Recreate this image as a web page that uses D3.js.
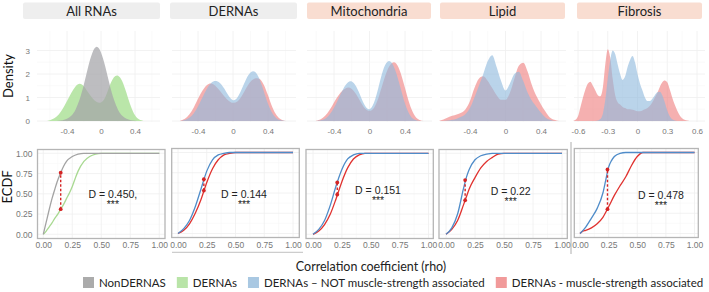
<!DOCTYPE html>
<meta charset="utf-8">
<style>
body { margin: 0; background: #fff; }
text { font-family: "Liberation Sans", Arial, sans-serif; }
.strip text { font-family: Lato, sans-serif; font-size: 13px; fill: #222; }
.grid line { stroke: #efefef; stroke-width: 0.8px; }
.grid line.minor { stroke: #f6f6f6; stroke-width: 0.6px; }
.dlab { font-size: 10.5px; fill: #222; }
</style>
<body>
<svg width="709" height="292"></svg>
<script src="https://d3js.org/d3.v7.min.js"></script>
<script>

var svg = d3.select("svg");

// ---- strip labels ----
var stripLabels = ["All RNAs", "DERNAs", "Mitochondria", "Lipid", "Fibrosis"];

// ---- density data (rho grid + density values) ----
var gridAll = [-0.65,-0.6,-0.55,-0.5,-0.45,-0.4,-0.35,-0.3,-0.25,-0.2,-0.15,-0.1,-0.05,0,0.05,0.1,0.15,0.2,0.25,0.3,0.35,0.4,0.45,0.5];
var densAllDE  = [0,0.03,0.1,0.25,0.5,0.85,1.2,1.5,1.63,1.5,1.2,0.95,0.78,0.75,0.95,1.5,1.9,1.98,1.75,1.2,0.6,0.2,0.04,0];
var densAllNon = [0,0,0,0.01,0.03,0.08,0.2,0.45,0.9,1.55,2.35,2.98,3.25,2.98,2.35,1.55,0.9,0.45,0.2,0.08,0.03,0.01,0,0];

var gridMid = [-0.6,-0.55,-0.5,-0.45,-0.4,-0.35,-0.3,-0.25,-0.2,-0.15,-0.1,-0.05,0,0.05,0.1,0.15,0.2,0.25,0.3,0.35,0.4,0.45,0.5,0.55,0.6];
var densDeNot  = [0,0.03,0.12,0.3,0.6,1.0,1.38,1.65,1.73,1.65,1.4,1.05,0.83,0.95,1.35,1.8,2.1,2.16,1.85,1.3,0.7,0.3,0.08,0.02,0];
var densDeMus  = [0.02,0.08,0.25,0.55,0.95,1.3,1.55,1.63,1.5,1.3,1.05,0.85,0.75,0.8,1.05,1.4,1.7,1.82,1.84,1.6,1.1,0.55,0.2,0.05,0];
var densMitNot = [0,0.02,0.08,0.25,0.55,0.95,1.35,1.65,1.73,1.5,1.05,0.6,0.43,0.7,1.4,2.2,2.58,2.55,2.1,1.4,0.7,0.25,0.05,0,0];
var densMitMus = [0.01,0.06,0.2,0.45,0.8,1.1,1.32,1.45,1.4,1.15,0.8,0.5,0.4,0.5,0.95,1.6,2.2,2.5,2.52,2.1,1.4,0.7,0.25,0.05,0];

var gridLip = [-0.75,-0.7,-0.65,-0.6,-0.55,-0.5,-0.45,-0.4,-0.35,-0.3,-0.25,-0.2,-0.15,-0.1,-0.05,0,0.05,0.1,0.15,0.2,0.25,0.3,0.35,0.4,0.45,0.5,0.55,0.6];
var densLipNot = [0,0,0.02,0.05,0.1,0.18,0.3,0.55,1.0,1.5,2.0,2.55,2.8,2.3,1.7,1.3,1.6,2.0,2.1,1.7,1.2,0.85,0.6,0.35,0.15,0.05,0,0];
var densLipMus = [0,0.06,0.15,0.22,0.28,0.35,0.5,0.85,1.4,1.8,1.9,1.7,1.4,1.1,0.9,0.9,1.2,1.8,2.35,2.48,2.1,1.5,1.05,0.7,0.4,0.15,0.05,0];

var gridFib = [-0.65,-0.625,-0.6,-0.575,-0.55,-0.525,-0.5,-0.475,-0.45,-0.425,-0.4,-0.375,-0.35,-0.325,-0.3,-0.275,-0.25,-0.225,-0.2,-0.175,-0.15,-0.125,-0.1,-0.075,-0.05,-0.025,0,0.025,0.05,0.075,0.1,0.125,0.15,0.175,0.2,0.225,0.25,0.275,0.3,0.325,0.35,0.375,0.4,0.425,0.45,0.475,0.5,0.525];
var densFibMus = [0,0.05,0.2,0.6,1.0,1.35,1.6,1.67,1.5,1.3,1.1,1.05,1.4,2.4,3.05,2.7,1.8,1.1,0.8,0.7,0.6,0.55,0.5,0.5,0.48,0.45,0.42,0.42,0.45,0.5,0.55,0.65,0.8,1.0,1.2,1.45,1.65,1.72,1.65,1.35,1.0,0.7,0.45,0.25,0.12,0.05,0.02,0];
var densFibNot = [0,0,0,0,0,0,0,0,0,0,0.02,0.08,0.3,0.9,1.8,2.6,3.0,2.85,2.4,2.0,1.75,1.9,2.3,2.6,2.77,2.5,2.0,1.6,1.3,1.0,0.85,0.85,0.95,1.1,1.22,1.25,1.1,0.8,0.45,0.2,0.07,0.02,0,0,0,0,0,0];

// ---- ECDF data ([|rho|, cumulative fraction]) ----
var ecdfAllNon = [[0,0],[0.025,0.15],[0.05,0.3],[0.075,0.44],[0.1,0.56],[0.125,0.67],[0.15,0.76],[0.175,0.84],[0.2,0.9],[0.25,0.96],[0.3,0.99],[0.35,1],[1,1]];
var ecdfAllDE  = [[0,0],[0.025,0.04],[0.05,0.09],[0.075,0.14],[0.1,0.2],[0.125,0.25],[0.15,0.31],[0.175,0.37],[0.2,0.44],[0.225,0.51],[0.25,0.59],[0.275,0.69],[0.3,0.78],[0.35,0.9],[0.4,0.96],[0.45,0.99],[0.5,1],[1,1]];
var ecdfDeNot  = [[0,0],[0.05,0.06],[0.1,0.16],[0.15,0.33],[0.2,0.55],[0.25,0.77],[0.3,0.91],[0.35,0.97],[0.4,0.99],[0.45,1],[1,1]];
var ecdfDeMus  = [[0,0],[0.05,0.04],[0.1,0.12],[0.15,0.25],[0.2,0.42],[0.25,0.63],[0.3,0.8],[0.35,0.91],[0.4,0.97],[0.45,0.99],[0.5,1],[1,1]];
var ecdfMitNot = [[0,0],[0.05,0.06],[0.1,0.17],[0.15,0.36],[0.2,0.6],[0.25,0.8],[0.3,0.93],[0.35,0.98],[0.4,1],[1,1]];
var ecdfMitMus = [[0,0],[0.05,0.04],[0.1,0.12],[0.15,0.25],[0.2,0.44],[0.25,0.65],[0.3,0.82],[0.35,0.93],[0.4,0.98],[0.45,1],[1,1]];
var ecdfLipNot = [[0,0],[0.05,0.08],[0.1,0.25],[0.15,0.56],[0.175,0.7],[0.2,0.8],[0.25,0.92],[0.3,0.97],[0.35,0.99],[0.4,1],[1,1]];
var ecdfLipMus = [[0,0],[0.05,0.06],[0.1,0.17],[0.15,0.36],[0.175,0.46],[0.2,0.56],[0.25,0.7],[0.3,0.82],[0.35,0.9],[0.4,0.95],[0.45,0.99],[0.5,1],[1,1]];
var ecdfFibNot = [[0,0],[0.05,0.08],[0.1,0.19],[0.15,0.31],[0.2,0.5],[0.225,0.66],[0.25,0.82],[0.275,0.9],[0.3,0.95],[0.35,0.99],[0.4,1],[1,1]];
var ecdfFibMus = [[0,0],[0.025,0.03],[0.05,0.04],[0.1,0.07],[0.15,0.12],[0.2,0.2],[0.25,0.33],[0.3,0.47],[0.35,0.59],[0.4,0.7],[0.45,0.84],[0.5,0.95],[0.55,1],[1,1]];

// KS statistic annotations
var ksLabels = ["D = 0.450,", "D = 0.144", "D = 0.151", "D = 0.22", "D = 0.478"];
var ksStars  = ["***", "***", "***", "***", "***"];
var ksAt     = [0.15, 0.225, 0.21, 0.165, 0.24];
var ksLow    = [0.31, 0.53, 0.49, 0.42, 0.30];
var ksHigh   = [0.76, 0.67, 0.64, 0.67, 0.79];

var legendLabels = ["NonDERNAS", "DERNAs", "DERNAs \u2013 NOT muscle-strength associated", "DERNAs - muscle-strength associated"];

// ---- colours ----
var col = {
  non:   {fill: "#a4a4a8", line: "#a3a3a3", key: "#ababab"},
  de:    {fill: "#b3e3a0", line: "#a8d991", key: "#b9e4a8"},
  notms: {fill: "#8fb9dd", line: "#4f8cc9", key: "#a9c8e2"},
  ms:    {fill: "#ef7f7f", line: "#e0322f", key: "#f19a9a"}
};

// ---- layout ----
var densY = d3.scaleLinear().domain([0, 3]).range([121, 50.5]);
var densTop = 31;

var densPanels = [
  {grid: gridAll, s: [[densAllDE, col.de, 0.9], [densAllNon, col.non, 0.72]], x: d3.scaleLinear().domain([-0.4, 0.4]).range([67, 135]), ticks: [-0.4, 0, 0.4], area: [37, 160]},
  {grid: gridMid, s: [[densDeMus, col.ms, 0.62], [densDeNot, col.notms, 0.62]], x: d3.scaleLinear().domain([-0.4, 0.4]).range([198, 268]), ticks: [-0.4, 0, 0.4], area: [172, 296]},
  {grid: gridMid, s: [[densMitMus, col.ms, 0.62], [densMitNot, col.notms, 0.62]], x: d3.scaleLinear().domain([-0.4, 0.4]).range([334, 405]), ticks: [-0.4, 0, 0.4], area: [307, 432]},
  {grid: gridLip, s: [[densLipMus, col.ms, 0.62], [densLipNot, col.notms, 0.62]], x: d3.scaleLinear().domain([-0.4, 0.4]).range([470, 541]), ticks: [-0.4, 0, 0.4], area: [440, 566]},
  {grid: gridFib, s: [[densFibMus, col.ms, 0.62], [densFibNot, col.notms, 0.62]], x: d3.scaleLinear().domain([-0.6, 0.6]).range([578, 697]), ticks: [-0.6, -0.3, 0, 0.3, 0.6], area: [574, 705]}
];

var stripBoxes = [[23, 160, "#eeeeee"], [170, 297, "#eeeeee"], [307, 431, "#f9ddd1"], [440, 565, "#f9ddd1"], [577, 702, "#f9ddd1"]];

var ecdfPanels = [
  {box: [37.5, 165, 149.5, 238.5], x: [43.3, 159.3], y: [234.3, 153.3], s: [[ecdfAllDE, col.de], [ecdfAllNon, col.non]], lab: [0.6, 0.45, 0.32]},
  {box: [171.7, 299.3, 148.5, 237.5], x: [178, 293], y: [233.5, 152.5], s: [[ecdfDeMus, col.ms], [ecdfDeNot, col.notms]], lab: [0.574, 0.44, 0.31]},
  {box: [306, 433.3, 149.5, 238.5], x: [313, 428.5], y: [234.3, 153.3], s: [[ecdfMitMus, col.ms], [ecdfMitNot, col.notms]], lab: [0.563, 0.5, 0.37]},
  {box: [439, 567.3, 149.5, 238.5], x: [446, 562], y: [234.3, 153.3], s: [[ecdfLipMus, col.ms], [ecdfLipNot, col.notms]], lab: [0.558, 0.49, 0.36]},
  {box: [574.3, 698.3, 148.5, 237.5], x: [580, 694.5], y: [233.5, 152.5], s: [[ecdfFibMus, col.ms], [ecdfFibNot, col.notms]], lab: [0.707, 0.43, 0.30]}
];

function styleAxis(g, size) {
  g.select(".domain").remove();
  g.selectAll(".tick line").remove();
  g.attr("font-family", "'Liberation Sans', Arial, sans-serif").attr("font-size", size);
  g.selectAll("text").attr("fill", "#777");
}

// ---- strips ----
var strip = svg.append("g").attr("class", "strip");
stripBoxes.forEach(function(b, i) {
  strip.append("rect").attr("x", b[0]).attr("y", 2.5).attr("width", b[1] - b[0]).attr("height", 16.5)
    .attr("rx", 2).attr("fill", b[2]);
  strip.append("text").attr("x", (b[0] + b[1]) / 2).attr("y", 15.5).attr("text-anchor", "middle").text(stripLabels[i]);
});

// ---- density panels ----
densPanels.forEach(function(p, i) {
  var g = svg.append("g");
  var grid = g.append("g").attr("class", "grid");
  var step = p.ticks[1] - p.ticks[0];
  var minors = p.ticks.map(function(t) { return t - step / 2; }).concat([p.ticks[p.ticks.length - 1] + step / 2]);
  minors.forEach(function(t) {
    var xx = p.x(t);
    if (xx < p.area[0] || xx > p.area[1]) return;
    grid.append("line").attr("class", "minor").attr("x1", xx).attr("x2", xx).attr("y1", densTop).attr("y2", 122);
  });
  p.ticks.forEach(function(t) {
    grid.append("line").attr("x1", p.x(t)).attr("x2", p.x(t)).attr("y1", densTop).attr("y2", 122);
  });
  [0.5, 1.5, 2.5].forEach(function(t) {
    grid.append("line").attr("class", "minor").attr("x1", p.area[0]).attr("x2", p.area[1]).attr("y1", densY(t)).attr("y2", densY(t));
  });
  [0, 1, 2, 3].forEach(function(t) {
    grid.append("line").attr("x1", p.area[0]).attr("x2", p.area[1]).attr("y1", densY(t)).attr("y2", densY(t));
  });

  p.s.forEach(function(s) {
    var vals = s[0];
    var area = d3.area()
      .x(function(d, j) { return p.x(p.grid[j]); })
      .y0(densY(0))
      .y1(function(d) { return densY(d); })
      .curve(i >= 3 ? d3.curveMonotoneX : d3.curveBasis);
    g.append("path").datum(vals).attr("d", area)
      .attr("fill", s[1].fill).attr("fill-opacity", s[2]);
  });

  var ax = g.append("g").attr("transform", "translate(0," + densY(0) + ")")
    .call(d3.axisBottom(p.x).tickValues(p.ticks).tickSize(0).tickPadding(7)
      .tickFormat(function(d) { return d === 0 ? "0" : String(d); }));
  styleAxis(ax, 8);

  if (i === 0) {
    var ay = g.append("g").attr("transform", "translate(35,0)")
      .call(d3.axisLeft(densY).tickValues([0, 1, 2, 3]).tickSize(0).tickPadding(5).tickFormat(d3.format("d")));
    styleAxis(ay, 8);
  }
});

// ---- ECDF panels ----
var fmt = d3.format(".2f");
ecdfPanels.forEach(function(p, i) {
  var g = svg.append("g");
  var x = d3.scaleLinear().domain([0, 1]).range(p.x);
  var y = d3.scaleLinear().domain([0, 1]).range(p.y);
  var b = p.box;
  var grid = g.append("g").attr("class", "grid");
  [0.125, 0.375, 0.625, 0.875].forEach(function(t) {
    grid.append("line").attr("class", "minor").attr("x1", x(t)).attr("x2", x(t)).attr("y1", b[2]).attr("y2", b[3]);
    grid.append("line").attr("class", "minor").attr("x1", b[0]).attr("x2", b[1]).attr("y1", y(t)).attr("y2", y(t));
  });
  [0, 0.25, 0.5, 0.75, 1].forEach(function(t) {
    grid.append("line").attr("x1", x(t)).attr("x2", x(t)).attr("y1", b[2]).attr("y2", b[3]);
    grid.append("line").attr("x1", b[0]).attr("x2", b[1]).attr("y1", y(t)).attr("y2", y(t));
  });

  var line = d3.line().x(function(d) { return x(d[0]); }).y(function(d) { return y(d[1]); }).curve(d3.curveMonotoneX);
  p.s.forEach(function(s) {
    g.append("path").datum(s[0]).attr("d", line).attr("fill", "none")
      .attr("stroke", s[1].line).attr("stroke-width", 1.3);
  });

  g.append("rect").attr("x", b[0]).attr("y", b[2]).attr("width", b[1] - b[0]).attr("height", b[3] - b[2])
    .attr("fill", "none").attr("stroke", "#b5b5b5").attr("stroke-width", 1.3);

  // KS distance marker
  g.append("line").attr("x1", x(ksAt[i])).attr("x2", x(ksAt[i])).attr("y1", y(ksLow[i])).attr("y2", y(ksHigh[i]))
    .attr("stroke", "#d42424").attr("stroke-width", 1.4).attr("stroke-dasharray", "2.5,2");
  [ksLow[i], ksHigh[i]].forEach(function(v) {
    g.append("circle").attr("cx", x(ksAt[i])).attr("cy", y(v)).attr("r", 1.9).attr("fill", "#d42424");
  });

  g.append("text").attr("class", "dlab").attr("x", x(p.lab[0])).attr("y", y(p.lab[1]))
    .attr("text-anchor", "middle").text(ksLabels[i]);
  g.append("text").attr("class", "dlab").attr("x", x(p.lab[0])).attr("y", y(p.lab[2]))
    .attr("text-anchor", "middle").text(ksStars[i]);

  var ax = g.append("g").attr("transform", "translate(0," + p.y[0] + ")")
    .call(d3.axisBottom(x).tickValues([0, 0.25, 0.5, 0.75, 1]).tickSize(0).tickPadding(8).tickFormat(fmt));
  styleAxis(ax, 8.5);

  if (i === 0) {
    var ay = g.append("g").attr("transform", "translate(" + (b[0] - 1) + ",0)")
      .call(d3.axisLeft(y).tickValues([0, 0.25, 0.5, 0.75, 1]).tickSize(0).tickPadding(4).tickFormat(fmt));
    styleAxis(ay, 8.5);
  }
});

// separators from the composite figure
svg.append("line").attr("x1", 571).attr("x2", 571).attr("y1", 142).attr("y2", 254).attr("stroke", "#9a9a9a").attr("stroke-width", 0.8);
svg.append("line").attr("x1", 172).attr("x2", 303).attr("y1", 252.3).attr("y2", 252.3).attr("stroke", "#b0b0b0").attr("stroke-width", 0.8);

// ---- axis titles ----
svg.append("text").attr("transform", "translate(13,76) rotate(-90)").attr("text-anchor", "middle")
  .style("font-family", "Lato, sans-serif").style("font-size", "13px").attr("fill", "#111").text("Density");
svg.append("text").attr("transform", "translate(12,187) rotate(-90)").attr("text-anchor", "middle")
  .style("font-family", "Lato, sans-serif").style("font-size", "13px").attr("fill", "#111").text("ECDF");
svg.append("text").attr("x", 371).attr("y", 271).attr("text-anchor", "middle")
  .style("font-family", "Lato, sans-serif").style("font-size", "12.5px").attr("fill", "#222").text("Correlation coefficient (rho)");

// ---- legend ----
var keyCols = [col.non.key, col.de.key, col.notms.key, col.ms.key];
var legend = svg.append("g");
var lx = 83;
legendLabels.forEach(function(l, i) {
  legend.append("rect").attr("x", lx).attr("y", 277).attr("width", 11).attr("height", 11).attr("fill", keyCols[i]);
  var t = legend.append("text").attr("x", lx + 16).attr("y", 286.5)
    .style("font-family", "Lato, sans-serif").style("font-size", "11.5px").attr("fill", "#222").text(l);
  lx += 16 + t.node().getComputedTextLength() + 11;
});

</script>
</body>
